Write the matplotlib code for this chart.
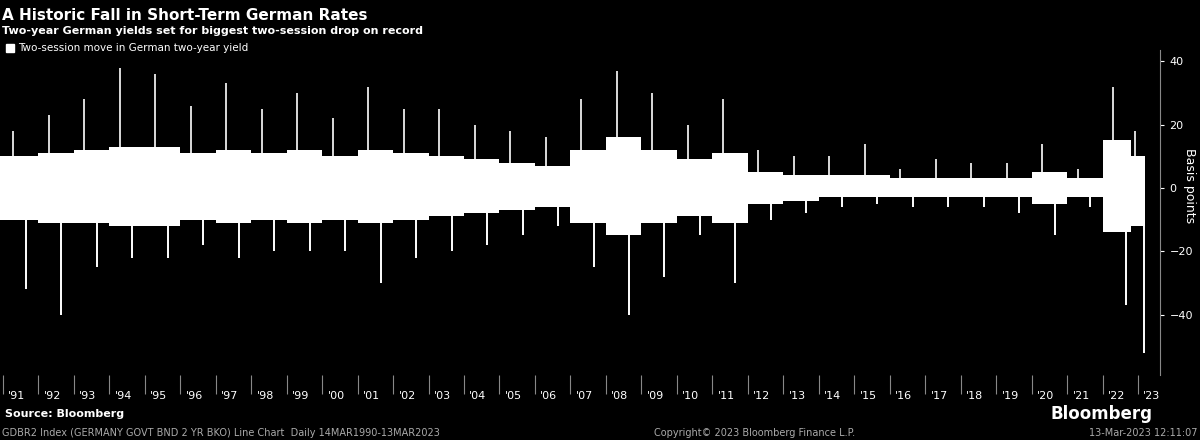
import matplotlib
matplotlib.use("Agg")
import matplotlib.pyplot as plt
import numpy as np

years = list(range(1991, 2024))
year_labels = ["'%02d" % (y % 100) for y in years]
# Estimated yearly extremes and typical band of two-session moves (bp)
yr_max = [18,23,28,38,36,26,33,25,30,22,32,25,25,20,18,16,28,37,30,20,28,12,10,10,14,6,9,8,8,14,6,32,18]
yr_min = [-32,-40,-25,-22,-22,-18,-22,-20,-20,-20,-30,-22,-20,-18,-15,-12,-25,-40,-28,-15,-30,-10,-8,-6,-5,-6,-6,-6,-8,-15,-6,-37,-52]
core_hi = [10,11,12,13,13,11,12,11,12,10,12,11,10,9,8,7,12,16,12,9,11,5,4,4,4,3,3,3,3,5,3,15,10]
core_lo = [-10,-11,-11,-12,-12,-10,-11,-10,-11,-10,-11,-10,-9,-8,-7,-6,-11,-15,-11,-9,-11,-5,-4,-3,-3,-3,-3,-3,-3,-5,-3,-14,-12]

fig = plt.figure(figsize=(12, 4.4), dpi=100, facecolor="black")
ax = fig.add_axes([0.0, 0.148, 0.967, 0.738], facecolor="black")
x = np.array(years, dtype=float) + 0.5
x[-1] = 2023.1
xs = np.concatenate([[1990.9], x, [2023.2]])
hi = np.concatenate([[core_hi[0]], core_hi, [core_hi[-1]]])
lo = np.concatenate([[core_lo[0]], core_lo, [core_lo[-1]]])
ax.fill_between(xs, lo, hi, color="white", lw=0, step="mid")
ax.vlines(x - 0.2, 0, yr_max, color="white", lw=1.2)
ax.vlines(np.minimum(x + 0.15, 2023.18), yr_min, 0, color="white", lw=1.4)
ax.set_xlim(1990.92, 2023.63)
ax.set_ylim(-59, 43.5)
ax.yaxis.tick_right()
ax.set_yticks([-40, -20, 0, 20, 40])
ax.tick_params(axis="y", colors="white", labelsize=8, length=3)
ax.set_xticks(years)
ax.set_xticklabels([])
ax.tick_params(axis="x", colors="#888888", length=14, direction="out")
for y, l in zip(years, year_labels):
    ax.text(y + 0.15, -0.05, l, transform=ax.get_xaxis_transform(), color="white",
            fontsize=8, ha="left", va="top")
for s in ["top", "left", "bottom"]:
    ax.spines[s].set_visible(False)
ax.spines["right"].set_color("#888888")
fig.text(0.991, 0.578, "Basis points", color="white", rotation=-90, fontsize=9,
         ha="center", va="center")

fig.text(0.002, 0.965, "A Historic Fall in Short-Term German Rates", color="white",
         fontsize=11, fontweight="bold", va="center")
fig.text(0.002, 0.93, "Two-year German yields set for biggest two-session drop on record",
         color="white", fontsize=8, fontweight="bold", va="center")
fig.patches.append(plt.Rectangle((0.005, 0.882), 0.007, 0.019, transform=fig.transFigure,
                                 color="white", figure=fig))
fig.text(0.015, 0.891, "Two-session move in German two-year yield", color="white",
         fontsize=7.5, va="center")
fig.text(0.004, 0.058, "Source: Bloomberg", color="white", fontsize=8, fontweight="bold", va="center")
fig.text(0.96, 0.058, "Bloomberg", color="white", fontsize=12, fontweight="bold", va="center", ha="right")
fig.text(0.002, 0.016, "GDBR2 Index (GERMANY GOVT BND 2 YR BKO) Line Chart  Daily 14MAR1990-13MAR2023",
         color="#aaaaaa", fontsize=7, va="center")
fig.text(0.545, 0.016, "Copyright\u00a9 2023 Bloomberg Finance L.P.", color="#aaaaaa", fontsize=7, va="center")
fig.text(0.998, 0.016, "13-Mar-2023 12:11:07", color="#aaaaaa", fontsize=7, va="center", ha="right")
fig.savefig("out.png", dpi=100, facecolor="black")
